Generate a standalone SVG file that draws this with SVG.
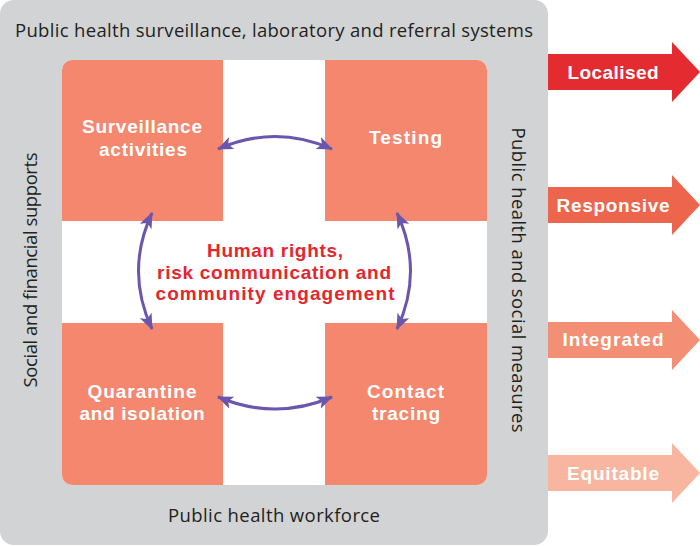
<svg xmlns="http://www.w3.org/2000/svg" width="700" height="546" viewBox="0 0 700 546">
<style>
.frame{font-family:"Open Sans","Liberation Sans",Arial,sans-serif;font-size:18.5px;fill:#231f20}
.lbl{font-family:"Liberation Sans",Arial,sans-serif;font-size:19px;font-weight:bold;fill:#ffffff;text-anchor:middle}
.ctr{font-family:"Liberation Sans",Arial,sans-serif;font-size:19px;font-weight:bold;fill:#e4262f;text-anchor:middle}
.box{fill:#f4876e}
.conn{fill:none;stroke:#6a57ad;stroke-width:3}
</style>
<defs>
<marker id="ah" viewBox="0 -7 16 14" refX="15" refY="0" markerWidth="16" markerHeight="14" markerUnits="userSpaceOnUse" orient="auto-start-reverse">
<path d="M0,-6.5 L16,0 L0,6.5 L4,0 Z" fill="#6a57ad"/>
</marker>
</defs>
<g id="frame">
<rect x="0" y="0" width="548" height="545" rx="14" fill="#d1d3d4"/>
<rect x="62" y="60" width="425" height="425" rx="10" fill="#ffffff"/>
<text class="frame" x="274" y="37" text-anchor="middle" textLength="518" lengthAdjust="spacing">Public health surveillance, laboratory and referral systems</text>
<text class="frame" x="274" y="522" text-anchor="middle" textLength="212" lengthAdjust="spacing">Public health workforce</text>
<text class="frame" transform="translate(37,270) rotate(-90)" text-anchor="middle" textLength="235" lengthAdjust="spacing">Social and financial supports</text>
<text class="frame" transform="translate(512,280) rotate(90)" text-anchor="middle" textLength="305" lengthAdjust="spacing">Public health and social measures</text>
</g>
<g id="surveillance">
<path class="box" d="M62,70 a10,10 0 0 1 10,-10 H223 V221 H62 Z"/>
<text class="lbl" x="142" y="133" textLength="120" lengthAdjust="spacing">Surveillance</text>
<text class="lbl" x="143" y="156" textLength="88" lengthAdjust="spacing">activities</text>
</g>
<g id="testing">
<path class="box" d="M325,60 H477 a10,10 0 0 1 10,10 V221 H325 Z"/>
<text class="lbl" x="405.5" y="144" textLength="73" lengthAdjust="spacing">Testing</text>
</g>
<g id="quarantine">
<path class="box" d="M62,323 H223 V485 H72 a10,10 0 0 1 -10,-10 Z"/>
<text class="lbl" x="142" y="398" textLength="109" lengthAdjust="spacing">Quarantine</text>
<text class="lbl" x="142" y="420" textLength="125" lengthAdjust="spacing">and isolation</text>
</g>
<g id="contact">
<path class="box" d="M325,323 H487 V475 a10,10 0 0 1 -10,10 H325 Z"/>
<text class="lbl" x="405.5" y="398" textLength="77" lengthAdjust="spacing">Contact</text>
<text class="lbl" x="406" y="420" textLength="68" lengthAdjust="spacing">tracing</text>
</g>
<g id="centre">
<text class="ctr" x="275" y="257" textLength="136" lengthAdjust="spacing">Human rights,</text>
<text class="ctr" x="274" y="279" textLength="234" lengthAdjust="spacing">risk communication and</text>
<text class="ctr" x="275" y="300" textLength="239" lengthAdjust="spacing">community engagement</text>
</g>
<g id="connectors">
<path class="conn" d="M218,149 Q275,124 332,149" marker-start="url(#ah)" marker-end="url(#ah)"/>
<path class="conn" d="M218,397 Q275,421 332,397" marker-start="url(#ah)" marker-end="url(#ah)"/>
<path class="conn" d="M152,213 Q125,271 152,329" marker-start="url(#ah)" marker-end="url(#ah)"/>
<path class="conn" d="M397,213 Q424,271 397,329" marker-start="url(#ah)" marker-end="url(#ah)"/>
</g>
<g id="localised">
<path d="M548,54 H672 V42 L700,72 L672,102 V90 H548 Z" fill="#e42b2f"/>
<text class="lbl" x="613" y="79" textLength="91" lengthAdjust="spacing">Localised</text>
</g>
<g id="responsive">
<path d="M548,187 H672 V175 L700,205 L672,235 V223 H548 Z" fill="#ec654c"/>
<text class="lbl" x="613" y="212" textLength="113" lengthAdjust="spacing">Responsive</text>
</g>
<g id="integrated">
<path d="M548,322 H672 V310 L700,340 L672,370 V358 H548 Z" fill="#f28f75"/>
<text class="lbl" x="613" y="346" textLength="101" lengthAdjust="spacing">Integrated</text>
</g>
<g id="equitable">
<path d="M548,455 H672 V443 L700,473 L672,503 V491 H548 Z" fill="#f8b6a0"/>
<text class="lbl" x="613" y="480" textLength="92" lengthAdjust="spacing">Equitable</text>
</g>
</svg>
